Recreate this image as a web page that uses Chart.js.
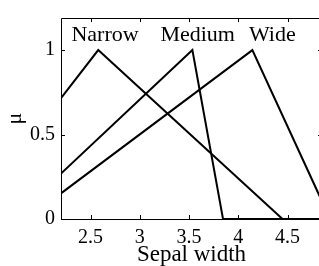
<!DOCTYPE html>
<html>
<head>
<meta charset="utf-8">
<script src="https://cdn.jsdelivr.net/npm/chart.js@4/dist/chart.umd.min.js"></script>
<style>
html,body{margin:0;padding:0;overflow:hidden;background:#fff;}
#wrap{width:322px;height:266px;}
</style>
</head>
<body>
<div id="wrap"><canvas id="c" width="322" height="266"></canvas></div>
<script>
// Data
const setNames = ["Narrow", "Medium", "Wide"];
const xNarrow = [2.2, 2.578, 4.449, 4.9];
const muNarrow = [0.715, 1, 0, 0];
const xMedium = [2.2, 3.534, 3.845, 4.9];
const muMedium = [0.269, 1, 0, 0];
const xWide = [2.2, 4.143, 4.933];
const muWide = [0.152, 1, 0];
const xTicks = [2.5, 3, 3.5, 4, 4.5];
const yTicks = [0, 0.5, 1];
const xTitle = "Sepal width";
const yTitle = "μ";

const FONT = "'Liberation Serif', 'Times New Roman', serif";

function pts(xs, ys) { return xs.map((x, i) => ({x: x, y: ys[i]})); }

const series = [pts(xNarrow, muNarrow), pts(xMedium, muMedium), pts(xWide, muWide)];

const framePlugin = {
  id: 'frame',
  afterDraw(chart, args, opts) {
    const {ctx, chartArea: a, scales} = chart;
    ctx.save();
    ctx.strokeStyle = '#000';
    ctx.lineWidth = 1;
    ctx.beginPath();
    ctx.rect(Math.round(a.left) + 0.5, Math.round(a.top) + 0.5, Math.round(a.right - a.left), Math.round(a.bottom - a.top));
    ctx.stroke();
    // inward tick marks
    const L = 4;
    ctx.beginPath();
    scales.x.ticks.forEach(t => {
      const px = Math.round(scales.x.getPixelForValue(t.value)) + 0.5;
      ctx.moveTo(px, a.bottom); ctx.lineTo(px, a.bottom - L);
      ctx.moveTo(px, a.top); ctx.lineTo(px, a.top + L);
    });
    scales.y.ticks.forEach(t => {
      const py = Math.round(scales.y.getPixelForValue(t.value)) + 0.5;
      ctx.moveTo(a.left, py); ctx.lineTo(a.left + L, py);
      ctx.moveTo(a.right, py); ctx.lineTo(a.right - L, py);
    });
    ctx.stroke();
    // set labels
    ctx.fillStyle = '#000';
    ctx.font = opts.fontSize + 'px ' + FONT;
    ctx.textAlign = 'center';
    ctx.textBaseline = 'alphabetic';
    opts.labels.forEach(l => {
      ctx.fillText(l.text, scales.x.getPixelForValue(l.x), scales.y.getPixelForValue(l.y));
    });
    ctx.restore();
  }
};

new Chart(document.getElementById('c'), {
  type: 'scatter',
  data: {
    datasets: series.map((d, i) => ({
      label: setNames[i],
      data: d,
      showLine: true,
      borderColor: '#000',
      borderWidth: 2,
      pointRadius: 0,
      fill: false,
      tension: 0
    }))
  },
  options: {
    responsive: false,
    animation: false,
    layout: {padding: {top: 15, right: 0, left: 0, bottom: 0}},
    plugins: {
      legend: {display: false},
      tooltip: {enabled: false},
      frame: {
        fontSize: 22,
        labels: [
          {text: setNames[0], x: 2.647, y: 1.055},
          {text: setNames[1], x: 3.588, y: 1.055},
          {text: setNames[2], x: 4.346, y: 1.055}
        ]
      }
    },
    scales: {
      x: {
        type: 'linear',
        min: 2.2,
        max: 4.85,
        grid: {display: false, drawTicks: false},
        border: {display: false},
        afterBuildTicks: s => { s.ticks = xTicks.map(v => ({value: v})); },
        afterFit: s => { s.height = 47; },
        ticks: {color: '#000', padding: 7, maxRotation: 0, font: {family: FONT, size: 20}, callback: v => String(v)},
        title: {display: true, text: xTitle, color: '#000', padding: {top: 0, bottom: 0}, font: {family: FONT, size: 23, lineHeight: 1.0}}
      },
      y: {
        type: 'linear',
        min: 0,
        max: 1.19,
        grid: {display: false, drawTicks: false},
        border: {display: false},
        afterBuildTicks: s => { s.ticks = yTicks.map(v => ({value: v})); },
        afterFit: s => { s.width = 61; },
        ticks: {color: '#000', padding: 6, font: {family: FONT, size: 20}, callback: v => String(v)},
        title: {display: true, text: yTitle, color: '#000', padding: {top: 2, bottom: 0}, font: {family: FONT, size: 22, lineHeight: 1.2}}
      }
    }
  },
  plugins: [framePlugin]
});
</script>
</body>
</html>
